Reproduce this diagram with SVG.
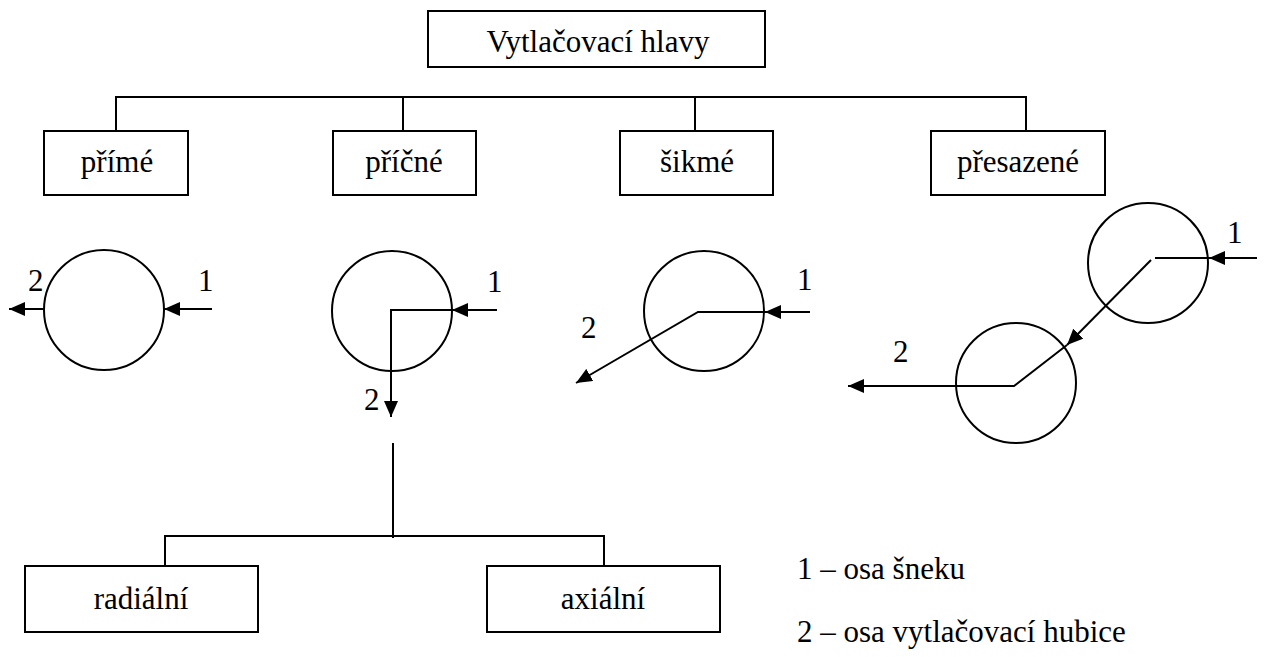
<svg xmlns="http://www.w3.org/2000/svg" width="1266" height="657" viewBox="0 0 1266 657">
  <style>
    .box { fill: #fff; stroke: #000; stroke-width: 2; }
    .ln { fill: none; stroke: #000; stroke-width: 2; }
    .circ { fill: none; stroke: #000; stroke-width: 2; }
    .t { font-family: "Liberation Serif", "Times New Roman", "DejaVu Serif", serif; font-size: 31px; fill: #000; }
    .c { text-anchor: middle; }
  </style>
  <defs>
    <marker id="ah" markerWidth="16" markerHeight="14" refX="16" refY="7" orient="auto" markerUnits="userSpaceOnUse">
      <path d="M0,0 L16,7 L0,14 Z" fill="#000"/>
    </marker>
  </defs>

  <!-- tree connectors -->
  <g id="connectors">
    <polyline class="ln" points="116,131 116,97 1026,97 1026,131"/>
    <line class="ln" x1="403" y1="97" x2="403" y2="131"/>
    <line class="ln" x1="695" y1="97" x2="695" y2="131"/>
    <line class="ln" x1="393" y1="443" x2="393" y2="538"/>
    <polyline class="ln" points="165,566 165,536 604,536 604,566"/>
  </g>

  <g id="root">
    <rect class="box" x="428" y="11" width="337" height="56"/>
    <text class="t c" x="598" y="52">Vytlačovací hlavy</text>
  </g>

  <g id="prime">
    <rect class="box" x="44" y="131" width="144" height="64"/>
    <text class="t c" x="117" y="172">přímé</text>
  </g>
  <g id="pricne">
    <rect class="box" x="333" y="131" width="143" height="64"/>
    <text class="t c" x="404" y="172">příčné</text>
  </g>
  <g id="sikme">
    <rect class="box" x="620" y="131" width="153" height="64"/>
    <text class="t c" x="697" y="172">šikmé</text>
  </g>
  <g id="presazene">
    <rect class="box" x="931" y="131" width="174" height="64"/>
    <text class="t c" x="1018" y="172">přesazené</text>
  </g>

  <!-- straight head -->
  <g id="sketch-prime">
    <circle class="circ" cx="104" cy="310" r="60"/>
    <line class="ln" x1="212" y1="309" x2="164" y2="309" marker-end="url(#ah)"/>
    <line class="ln" x1="44" y1="309" x2="9" y2="309" marker-end="url(#ah)"/>
    <text class="t" x="198" y="291">1</text>
    <text class="t" x="28" y="291">2</text>
  </g>

  <!-- cross head -->
  <g id="sketch-pricne">
    <circle class="circ" cx="392" cy="311" r="60"/>
    <line class="ln" x1="497" y1="310" x2="452" y2="310" marker-end="url(#ah)"/>
    <polyline class="ln" points="452,310 391,310 391,417" marker-end="url(#ah)"/>
    <text class="t" x="487" y="292">1</text>
    <text class="t" x="364" y="410">2</text>
  </g>

  <!-- angled head -->
  <g id="sketch-sikme">
    <circle class="circ" cx="704" cy="311" r="60"/>
    <line class="ln" x1="810" y1="312" x2="765" y2="312" marker-end="url(#ah)"/>
    <polyline class="ln" points="765,312 698,312 576,383" marker-end="url(#ah)"/>
    <text class="t" x="797" y="290">1</text>
    <text class="t" x="581" y="338">2</text>
  </g>

  <!-- offset head -->
  <g id="sketch-presazene">
    <circle class="circ" cx="1148" cy="263" r="60"/>
    <circle class="circ" cx="1016" cy="383" r="60"/>
    <line class="ln" x1="1257" y1="258" x2="1209" y2="258" marker-end="url(#ah)"/>
    <line class="ln" x1="1209" y1="258" x2="1155" y2="258"/>
    <line class="ln" x1="1151" y1="260" x2="1067" y2="345" marker-end="url(#ah)"/>
    <polyline class="ln" points="1067,345 1014,386 848,386" marker-end="url(#ah)"/>
    <text class="t" x="1227" y="243">1</text>
    <text class="t" x="893" y="362">2</text>
  </g>

  <g id="radialni">
    <rect class="box" x="25" y="566" width="233" height="66"/>
    <text class="t c" x="141" y="609">radiální</text>
  </g>
  <g id="axialni">
    <rect class="box" x="487" y="566" width="233" height="66"/>
    <text class="t c" x="603" y="609">axiální</text>
  </g>

  <g id="legend">
    <text class="t" x="797" y="579">1 – osa šneku</text>
    <text class="t" x="797" y="642">2 – osa vytlačovací hubice</text>
  </g>
</svg>
